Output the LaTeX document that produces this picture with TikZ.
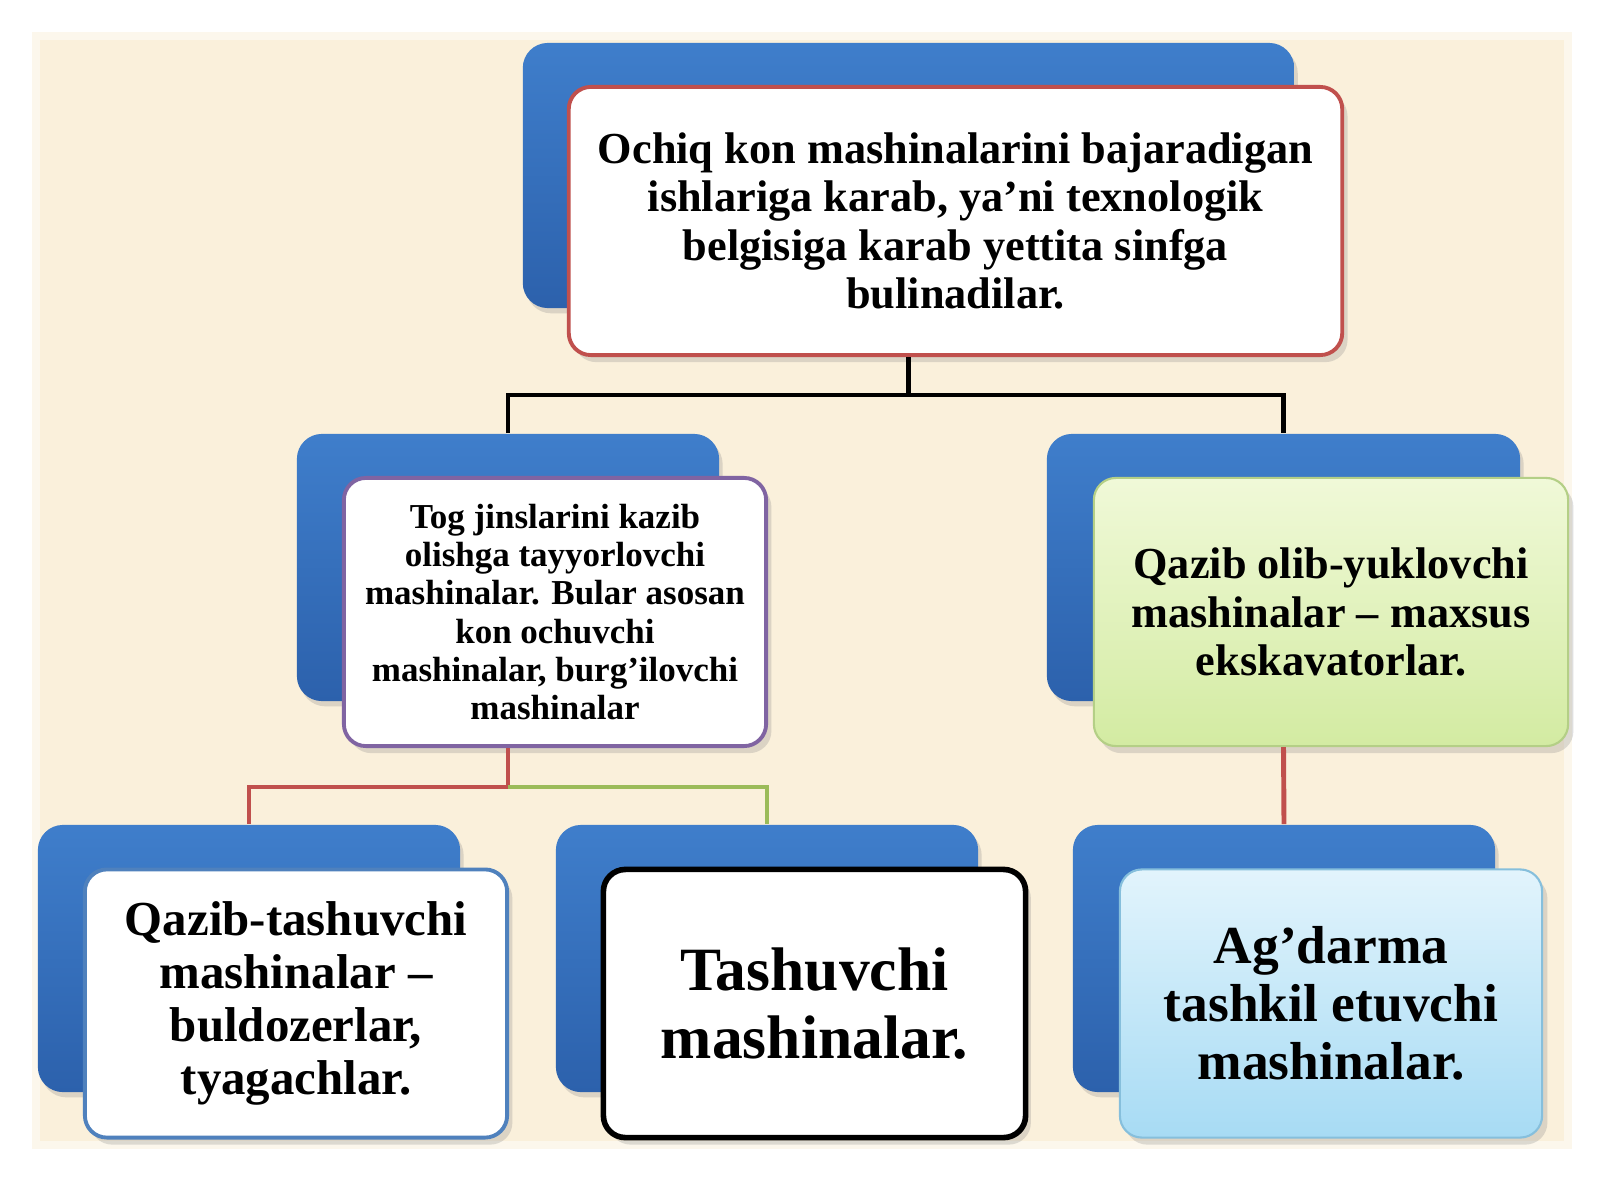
\documentclass[tikz,border=0pt]{standalone}
\usepackage{fontspec}
\setmainfont{Liberation Serif}
\usetikzlibrary{shadows}
\definecolor{cream}{HTML}{FAF0DB}
\definecolor{boxblue}{HTML}{3F7ECB}
\definecolor{boxbluedark}{HTML}{2C61AC}
\definecolor{linered}{HTML}{C0504D}
\definecolor{linegreen}{HTML}{9BBB59}
\definecolor{lilac}{HTML}{8064A2}
\definecolor{edgeblue}{HTML}{4F81BD}
\definecolor{limetop}{HTML}{F0F9D8}
\definecolor{limebot}{HTML}{D3EBA2}
\definecolor{limeedge}{HTML}{B4CF86}
\definecolor{skytop}{HTML}{E2F4FC}
\definecolor{skybot}{HTML}{A7DBF4}
\definecolor{skyedge}{HTML}{86BFDC}
\begin{document}
\begin{tikzpicture}
      [x=0.01cm,y=-0.01cm,
       backbox/.style={rounded corners=0.25cm,top color=boxblue,bottom color=boxbluedark,
         minimum width=4.22cm,minimum height=2.67cm,inner sep=0pt,
         drop shadow={opacity=0.25,shadow xshift=1pt,shadow yshift=-1.5pt}},
       frontbox/.style={rounded corners=0.22cm,draw,line width=1.1pt,fill=white,
         minimum width=4.22cm,minimum height=2.68cm,inner sep=0pt,align=center,
         drop shadow={opacity=0.25,shadow xshift=1.5pt,shadow yshift=-2pt}},
       conn/.style={line width=1.4pt}]
      % paper
      \fill[white] (0,0) rectangle (1600,1200);
      \useasboundingbox (0,0) rectangle (1600,1200);
      \fill[cream,opacity=0.5] (32,32) rectangle (1572,1149);
      \fill[cream] (40,40) rectangle (1564,1141);

      % top
      \node[backbox,minimum width=7.71cm,minimum height=2.65cm] (topb) at (908.5,175.5) {};
      \node[frontbox,draw=linered,minimum width=7.73cm,
        font=\bfseries\fontsize{12.6}{13.7}\selectfont] (top) at (955.5,221)
        {Ochiq kon mashinalarini bajaradigan\\ishlariga karab, ya’ni texnologik\\
         belgisiga karab yettita sinfga\\bulinadilar.};

      % middle row
      \node[backbox] (prepb) at (508,567.5) {};
      \node[frontbox,draw=lilac,font=\bfseries\fontsize{9.95}{10.9}\selectfont] (prep) at (555,612)
        {Tog jinslarini kazib\\olishga tayyorlovchi\\mashinalar. Bular asosan\\
         kon ochuvchi\\mashinalar, burg’ilovchi\\mashinalar};
      \node[backbox,minimum width=4.73cm] (loadb) at (1283.5,567.5) {};
      \node[frontbox,draw=limeedge,line width=0.6pt,top color=limetop,bottom color=limebot,
        minimum width=4.74cm,font=\bfseries\fontsize{12.6}{13.7}\selectfont] (load) at (1331,612)
        {Qazib olib-yuklovchi\\mashinalar – maxsus\\ekskavatorlar.};

      % bottom row
      \node[backbox] (dozb) at (249,958.5) {};
      \node[frontbox,draw=edgeblue,font=\bfseries\fontsize{13.9}{15.1}\selectfont] (doz) at (296,1003.5)
        {Qazib-tashuvchi\\mashinalar –\\buldozerlar,\\tyagachlar.};
      \node[backbox] (haulb) at (767,958.5) {};
      \node[frontbox,draw=black,line width=1.6pt,font=\bfseries\fontsize{17.5}{19.4}\selectfont] (haul) at (814.5,1003.5)
        {Tashuvchi\\mashinalar.};
      \node[backbox] (dumpb) at (1284,958.5) {};
      \node[frontbox,draw=skyedge,line width=0.6pt,top color=skytop,bottom color=skybot,
        font=\bfseries\fontsize{15.2}{16.5}\selectfont] (dump) at (1331,1003.5)
        {Ag’darma\\tashkil etuvchi\\mashinalar.};

      % connectors
      \path (topb.south |- top.south) ++(0,38) coordinate (j1);
      \draw[conn] (topb.south |- top.south) -- (j1);
      \draw[conn] (prepb.north) |- (j1) -| (loadb.north);
      \path (prepb.south |- prep.south) ++(0,39) coordinate (j2);
      \draw[conn,linered] (prepb.south |- prep.south) -- (j2) -| (dozb.north);
      \draw[conn,linegreen] (j2) -| (haulb.north);
      \draw[conn,linered] (loadb.south |- load.south) -- (dumpb.north);
    \end{tikzpicture}
\end{document}
